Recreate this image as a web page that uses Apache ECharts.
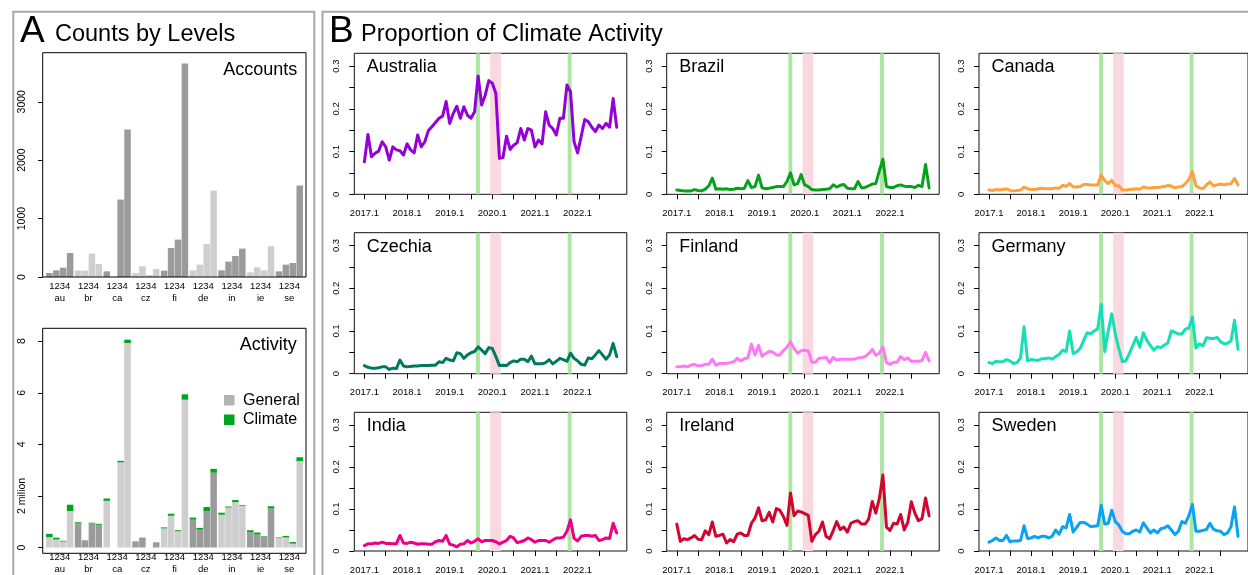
<!DOCTYPE html>
<html><head><meta charset="utf-8">
<script src="https://cdn.jsdelivr.net/npm/echarts@6/dist/echarts.min.js"></script>
<style>html,body{margin:0;padding:0;background:#fff}#c{width:1248px;height:575px}</style>
</head><body><div id="c"></div>
<script>
// ---------------- DATA ----------------
const countryCodes = ['au','br','ca','cz','fi','de','in','ie','se'];
const levelTickText = '1234';
const accountsTicks = [0, 1000, 2000, 3000];
const activityTicks = [0, 2, 4, 6, 8];

const accountsLevel1 = [69,109,97,69,109,114,114,80,97];
const accountsLevel2 = [114,109,0,183,497,211,263,166,211];
const accountsLevel3 = [160,400,1326,34,640,566,360,114,240];
const accountsLevel4 = [411,223,2526,137,3657,1480,486,526,1566];

// activity in millions: general part and climate part, per level
const generalLevel1 = [0.40,0.93,1.81,0.21,0.74,1.08,1.27,0.59,0.38];
const climateLevel1 = [0.13,0.05,0.09,0.02,0.04,0.08,0.08,0.08,0.02];
const generalLevel2 = [0.31,0.27,0,0.37,1.23,0.69,1.55,0.50,0.39];
const climateLevel2 = [0.07,0.01,0,0.01,0.08,0.07,0.04,0.08,0.06];
const generalLevel3 = [0.23,0.93,3.30,0,0.63,1.41,1.76,0.42,0.15];
const climateLevel3 = [0.03,0.03,0.06,0,0.04,0.16,0.08,0.02,0.06];
const generalLevel4 = [1.41,0.88,7.93,0.19,5.73,2.90,1.62,1.51,3.35];
const climateLevel4 = [0.25,0.04,0.13,0.01,0.21,0.15,0.03,0.09,0.15];

const countryNames = ['Australia','Brazil','Canada','Czechia','Finland','Germany','India','Ireland','Sweden'];
const yearTickLabels = ['2017.1','2018.1','2019.1','2020.1','2021.1','2022.1'];
const proportionTicks = [0, 0.1, 0.2, 0.3];

// monthly proportion, Jan 2017 .. Dec 2022
const australia = [0.076,0.140,0.088,0.096,0.101,0.123,0.111,0.080,0.111,0.104,0.102,0.092,
0.118,0.104,0.097,0.139,0.111,0.123,0.149,0.158,0.168,0.178,0.183,0.217,
0.166,0.189,0.206,0.178,0.205,0.185,0.178,0.193,0.277,0.209,0.232,0.266,
0.260,0.236,0.084,0.086,0.136,0.105,0.115,0.121,0.154,0.127,0.154,0.150,
0.111,0.127,0.118,0.193,0.162,0.154,0.139,0.178,0.178,0.256,0.240,0.123,
0.097,0.135,0.175,0.170,0.157,0.147,0.162,0.154,0.166,0.157,0.224,0.157];
const brazil = [0.010,0.009,0.008,0.008,0.008,0.011,0.009,0.008,0.012,0.020,0.038,0.012,
0.013,0.012,0.013,0.011,0.012,0.014,0.013,0.014,0.032,0.016,0.018,0.045,
0.015,0.013,0.014,0.016,0.018,0.018,0.018,0.030,0.050,0.022,0.025,0.046,
0.022,0.018,0.011,0.010,0.010,0.011,0.012,0.013,0.022,0.017,0.021,0.023,
0.014,0.013,0.013,0.030,0.015,0.016,0.020,0.024,0.025,0.055,0.082,0.018,
0.016,0.016,0.020,0.022,0.019,0.018,0.018,0.016,0.021,0.018,0.070,0.015];
const canada = [0.010,0.009,0.011,0.010,0.011,0.013,0.009,0.008,0.009,0.010,0.017,0.013,
0.011,0.011,0.013,0.014,0.013,0.013,0.013,0.015,0.014,0.021,0.019,0.025,
0.017,0.017,0.018,0.023,0.023,0.022,0.022,0.022,0.045,0.032,0.025,0.033,
0.020,0.020,0.010,0.010,0.011,0.012,0.013,0.012,0.017,0.015,0.015,0.016,
0.016,0.017,0.018,0.021,0.019,0.015,0.017,0.018,0.025,0.035,0.053,0.020,
0.015,0.013,0.022,0.029,0.020,0.022,0.024,0.022,0.024,0.025,0.037,0.022];
const czechia = [0.019,0.015,0.013,0.013,0.014,0.016,0.016,0.010,0.013,0.012,0.032,0.018,
0.016,0.017,0.018,0.018,0.019,0.019,0.019,0.020,0.020,0.028,0.026,0.036,
0.032,0.030,0.049,0.047,0.036,0.044,0.049,0.052,0.063,0.055,0.047,0.061,
0.059,0.040,0.019,0.020,0.019,0.026,0.030,0.028,0.034,0.034,0.028,0.041,
0.023,0.023,0.023,0.026,0.033,0.023,0.029,0.036,0.033,0.029,0.048,0.036,
0.030,0.022,0.020,0.037,0.035,0.044,0.054,0.044,0.034,0.044,0.071,0.040];
const finland = [0.016,0.016,0.018,0.016,0.020,0.022,0.018,0.019,0.022,0.022,0.034,0.020,
0.024,0.024,0.024,0.026,0.028,0.036,0.030,0.035,0.037,0.069,0.044,0.066,
0.041,0.047,0.052,0.051,0.044,0.044,0.054,0.062,0.074,0.059,0.048,0.054,
0.055,0.053,0.027,0.027,0.036,0.037,0.038,0.026,0.038,0.032,0.034,0.034,
0.034,0.034,0.034,0.037,0.038,0.040,0.047,0.057,0.043,0.048,0.063,0.026,
0.022,0.027,0.027,0.040,0.033,0.037,0.029,0.029,0.029,0.031,0.050,0.030];
const germany = [0.026,0.024,0.029,0.028,0.028,0.033,0.030,0.024,0.026,0.037,0.110,0.030,
0.033,0.032,0.031,0.035,0.035,0.037,0.034,0.040,0.045,0.055,0.052,0.100,
0.047,0.051,0.059,0.078,0.096,0.093,0.100,0.105,0.162,0.052,0.100,0.140,
0.094,0.059,0.028,0.030,0.047,0.066,0.085,0.062,0.096,0.078,0.066,0.055,
0.063,0.061,0.067,0.072,0.100,0.097,0.093,0.093,0.104,0.107,0.133,0.060,
0.070,0.065,0.084,0.083,0.082,0.085,0.075,0.070,0.071,0.077,0.125,0.057];
const india = [0.013,0.017,0.017,0.019,0.018,0.021,0.018,0.018,0.017,0.017,0.037,0.019,
0.018,0.021,0.019,0.016,0.017,0.017,0.016,0.016,0.022,0.025,0.023,0.037,
0.016,0.014,0.010,0.016,0.017,0.025,0.019,0.023,0.029,0.022,0.025,0.025,
0.025,0.022,0.017,0.021,0.025,0.035,0.031,0.020,0.022,0.025,0.031,0.027,
0.021,0.025,0.025,0.025,0.021,0.026,0.031,0.031,0.033,0.047,0.074,0.030,
0.024,0.035,0.037,0.037,0.035,0.037,0.025,0.027,0.031,0.030,0.066,0.043];
const ireland = [0.064,0.023,0.029,0.027,0.031,0.037,0.028,0.027,0.048,0.039,0.069,0.035,
0.037,0.040,0.019,0.027,0.022,0.040,0.043,0.037,0.037,0.066,0.078,0.103,
0.072,0.074,0.092,0.069,0.101,0.097,0.082,0.061,0.138,0.084,0.095,0.093,
0.089,0.085,0.023,0.039,0.047,0.069,0.035,0.029,0.048,0.070,0.051,0.057,
0.045,0.066,0.070,0.072,0.064,0.064,0.076,0.118,0.090,0.125,0.181,0.057,
0.049,0.066,0.064,0.087,0.050,0.068,0.117,0.090,0.072,0.077,0.126,0.084];
const sweden = [0.021,0.025,0.031,0.025,0.025,0.037,0.022,0.024,0.024,0.025,0.060,0.030,
0.031,0.035,0.031,0.035,0.035,0.031,0.035,0.050,0.040,0.058,0.055,0.087,
0.045,0.056,0.068,0.068,0.064,0.058,0.059,0.060,0.109,0.064,0.066,0.097,
0.070,0.062,0.047,0.041,0.041,0.047,0.050,0.045,0.067,0.055,0.043,0.050,
0.043,0.053,0.055,0.060,0.050,0.039,0.047,0.070,0.066,0.085,0.111,0.047,
0.047,0.049,0.051,0.066,0.052,0.048,0.047,0.039,0.043,0.058,0.105,0.035];

// event periods (month index from Jan 2017)
const strikeBands = [[31.4, 32.5], [57.2, 58.3]];
const covidBand = [35.4, 38.4];

// ---------------- STYLE / LAYOUT ----------------
const FONT = "'Liberation Sans', Arial, Helvetica, sans-serif";
const DARK = '#9b9b9b', LIGHT = '#cecece', GREEN = '#00a51f';
const lineColors = ['#9400d6','#06a21c','#ffa03c','#007a5c','#ff78f4','#17dfb4','#ec0089','#d0062f','#0aa2f3'];
const seriesByCountry = [australia, brazil, canada, czechia, finland, germany, india, ireland, sweden];

const gridA1 = {left:45.4, top:52.7, width:258.3, height:224.3};
const gridA2 = {left:45.4, top:328.3, width:258.3, height:225};
const boxLeftA = 42.7, boxRightA = 306;
const colLeft = [354.3, 666.7, 979];
const rowTop = [53.3, 232.7, 412.3];
const cellW = 272.5, cellH = 141;

const grids = [gridA1, gridA2];
const xAxes = [], yAxes = [], series = [], graphics = [];

// Panel A axes
[0,1].forEach(g => {
  xAxes.push({
    gridIndex: g, type: 'category', data: countryCodes,
    axisLine: {show:false, onZero:false}, axisTick: {show:false},
    axisLabel: {formatter: v => levelTickText + '\n' + v, fontSize: 9.5, lineHeight: 12,
      margin: 3.5, color: '#000', fontFamily: FONT, interval: 0}
  });
});
yAxes.push({
  gridIndex: 0, type: 'value', min: 0, max: 3840, offset: 2.7,
  axisLine: {show:false, onZero:false}, splitLine: {show:false},
  axisTick: {show:true, length: 4.5, customValues: accountsTicks, lineStyle: {color:'#000'}},
  axisLabel: {customValues: accountsTicks, rotate: 90, fontSize: 10.5, margin: 15, color:'#000', fontFamily: FONT,
    formatter: v => String(v)}
});
yAxes.push({
  gridIndex: 1, type: 'value', min: 0, max: 8.5, offset: 2.7,
  axisLine: {show:false, onZero:false}, splitLine: {show:false},
  axisTick: {show:true, length: 4.5, customValues: activityTicks, lineStyle: {color:'#000'}},
  axisLabel: {customValues: activityTicks, rotate: 90, fontSize: 10.5, margin: 15, color:'#000', fontFamily: FONT,
    formatter: v => v === 2 ? '2 milion' : String(v)}
});

const accounts = [accountsLevel1, accountsLevel2, accountsLevel3, accountsLevel4];
accounts.forEach(arr => series.push({
  type: 'bar', xAxisIndex: 0, yAxisIndex: 0, data: arr, silent: true,
  barGap: '6%', barCategoryGap: '5%',
  itemStyle: {color: p => p.dataIndex % 2 === 0 ? DARK : LIGHT}
}));
const generals = [generalLevel1, generalLevel2, generalLevel3, generalLevel4];
const climates = [climateLevel1, climateLevel2, climateLevel3, climateLevel4];
generals.forEach((arr, k) => {
  series.push({
    type: 'bar', name: 'General', xAxisIndex: 1, yAxisIndex: 1, stack: 'lv' + k, data: arr, silent: true,
    barGap: '6%', barCategoryGap: '5%',
    itemStyle: {color: p => p.dataIndex % 2 === 0 ? LIGHT : DARK}
  });
  series.push({
    type: 'bar', name: 'Climate', xAxisIndex: 1, yAxisIndex: 1, stack: 'lv' + k, data: climates[k], silent: true,
    barGap: '6%', barCategoryGap: '5%',
    itemStyle: {color: GREEN}
  });
});

// Panel B
const monthTicks = [], yearTicks = [];
for (let m = 0; m <= 66; m += 6) monthTicks.push(m);
yearTickLabels.forEach((_, i) => yearTicks.push(i * 12));
const propMinorTicks = [0, 0.05, 0.1, 0.15, 0.2, 0.25, 0.3];

countryNames.forEach((name, i) => {
  const r = Math.floor(i / 3), c = i % 3;
  const gi = grids.length;
  grids.push({left: colLeft[c], top: rowTop[r], width: cellW, height: cellH,
    show: true, borderColor: '#111', borderWidth: 1, backgroundColor: 'transparent'});
  xAxes.push({
    gridIndex: gi, type: 'value', min: -2.84, max: 73.84,
    axisLine: {show:false, onZero:false}, splitLine: {show:false},
    axisTick: {show:true, length: 5, customValues: monthTicks, lineStyle:{color:'#000'}},
    axisLabel: {customValues: yearTicks, formatter: v => yearTickLabels[Math.round(v / 12)],
      fontSize: 9.5, margin: 14, color:'#000', fontFamily: FONT}
  });
  yAxes.push({
    gridIndex: gi, type: 'value', min: 0, max: 0.33,
    axisLine: {show:false, onZero:false}, splitLine: {show:false},
    axisTick: {show:true, length: 5, customValues: propMinorTicks, lineStyle:{color:'#000'}},
    axisLabel: {customValues: proportionTicks, rotate: 90, fontSize: 9.5, margin: 12.5,
      color:'#000', fontFamily: FONT, formatter: v => String(Math.round(v * 10) / 10)}
  });
  const bandData = strikeBands.map(b => [{xAxis: b[0], itemStyle: {color: '#ade5a3'}}, {xAxis: b[1]}]);
  bandData.push([{xAxis: covidBand[0], itemStyle: {color: '#f9d8df'}}, {xAxis: covidBand[1]}]);
  series.push({
    type: 'line', xAxisIndex: gi, yAxisIndex: gi, silent: true,
    data: seriesByCountry[i].map((v, k) => [k, v]),
    showSymbol: false, symbol: 'none',
    lineStyle: {color: lineColors[i], width: 3, join: 'round', cap: 'round'},
    markArea: {silent: true, label: {show:false}, data: bandData},
    z: 3
  });
  graphics.push({type:'text', x: colLeft[c] + 12.5, y: rowTop[r] + 14, z: 10,
    style: {text: name, fontSize: 18, fontFamily: FONT, fill: '#000', align: 'left', verticalAlign: 'middle'}});
});

// frames, titles, labels, legend
graphics.push(
  {type:'rect', shape:{x:13.3, y:11.7, width:301, height:600}, style:{fill:'none', stroke:'#a8a8a8', lineWidth:2}, z:1},
  {type:'rect', shape:{x:322.5, y:11.7, width:940, height:600}, style:{fill:'none', stroke:'#a8a8a8', lineWidth:2}, z:1},
  {type:'rect', shape:{x:boxLeftA, y:gridA1.top, width:boxRightA-boxLeftA, height:gridA1.height}, style:{fill:'none', stroke:'#000', lineWidth:1}, z:10},
  {type:'rect', shape:{x:boxLeftA, y:gridA2.top, width:boxRightA-boxLeftA, height:gridA2.height}, style:{fill:'none', stroke:'#000', lineWidth:1}, z:10},
  {type:'text', x:20, y:32, style:{text:'A', fontSize:37, fontFamily:FONT, fill:'#000', align:'left', verticalAlign:'middle'}},
  {type:'text', x:55, y:34.5, style:{text:'Counts by Levels', fontSize:23.5, fontFamily:FONT, fill:'#000', align:'left', verticalAlign:'middle'}},
  {type:'text', x:329, y:32, style:{text:'B', fontSize:37, fontFamily:FONT, fill:'#000', align:'left', verticalAlign:'middle'}},
  {type:'text', x:361, y:34.5, style:{text:'Proportion of Climate Activity', fontSize:23.5, fontFamily:FONT, fill:'#000', align:'left', verticalAlign:'middle'}},
  {type:'text', x:297.3, y:69.7, z:10, style:{text:'Accounts', fontSize:18, fontFamily:FONT, fill:'#000', align:'right', verticalAlign:'middle'}},
  {type:'text', x:296.7, y:345, z:10, style:{text:'Activity', fontSize:18, fontFamily:FONT, fill:'#000', align:'right', verticalAlign:'middle'}},
  {type:'rect', shape:{x:224, y:395, width:10.5, height:10.5}, style:{fill:'#b3b3b3'}, z:10},
  {type:'rect', shape:{x:224, y:414.5, width:10.5, height:10.5}, style:{fill:GREEN}, z:10},
  {type:'text', x:243, y:400.5, z:10, style:{text:'General', fontSize:16, fontFamily:FONT, fill:'#000', align:'left', verticalAlign:'middle'}},
  {type:'text', x:243, y:420, z:10, style:{text:'Climate', fontSize:16, fontFamily:FONT, fill:'#000', align:'left', verticalAlign:'middle'}}
);

const chart = echarts.init(document.getElementById('c'), null, {renderer: 'canvas'});
chart.setOption({
  animation: false,
  backgroundColor: '#fff',
  textStyle: {fontFamily: FONT},
  grid: grids, xAxis: xAxes, yAxis: yAxes, series: series,
  graphic: {elements: graphics}
});
</script></body></html>
